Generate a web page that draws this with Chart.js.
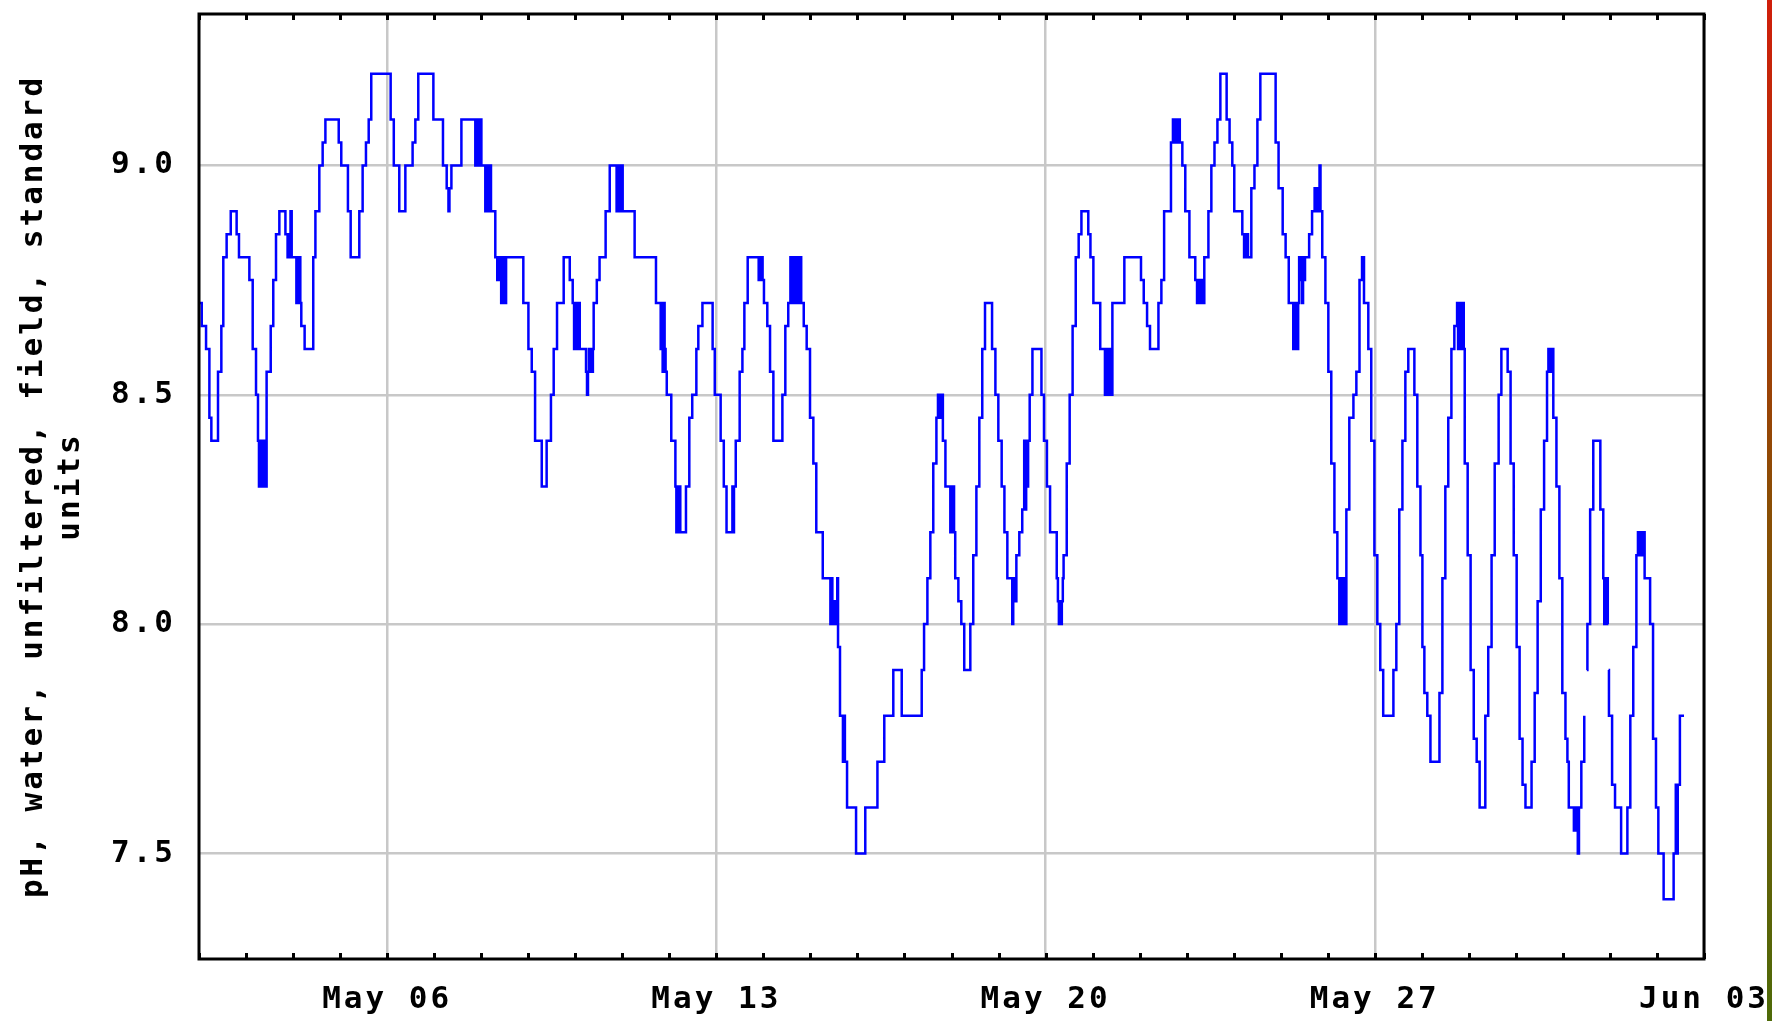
<!DOCTYPE html>
<html>
<head>
<meta charset="utf-8">
<title>pH, water, unfiltered, field, standard units</title>
<script src="https://cdn.jsdelivr.net/npm/chart.js@4.4.1/dist/chart.umd.min.js"></script>
<style>
  html, body { margin: 0; padding: 0; background: #fff; }
  #wrap { width: 1772px; height: 1021px; }
</style>
</head>
<body>
<div id="wrap"><canvas id="phChart" width="1772" height="1021"></canvas></div>
<script>
/* Hours since May 02 00:00 at which the reading changes, and the reading from then on.
   null = break in the record */
const stepHours = [
    0, 1.4, 3.6, 5.3, 6.3, 9.7, 11.4, 12.4, 14.1, 16.2, 19.2, 20.4,
    25.7, 27.4, 29.1, 30.1, 30.6, 31.1, 31.6, 32.1, 32.6, 33.1, 33.6, 34.5, 36.6, 37.9, 39.3, 41.0, 44.1,
    45.2, 45.7, 46.2, 46.7, 47.3, 49.7, 50.2, 50.7, 51.2, 51.7, 52.2, 53.9, 58.3, 59.4, 61.4, 63.1, 64.5,
    71.3, 72.6, 76.0, 77.4, 81.8, 83.5, 85.2, 86.6, 87.9, 97.8, 99.4, 102.2, 105.3, 109.0, 110.4, 111.9,
    119.6, 124.5, 126.4, 127.3, 127.8, 128.8, 133.9, 141.0, 141.5, 142.0, 142.5, 143.0, 143.5, 144.1,
    146.1, 146.6, 147.1, 147.6, 148.1, 148.6, 149.0, 151.2, 152.2, 152.7, 153.2, 153.7, 154.2, 154.7, 155.2, 155.7, 156.2, 156.7,
    165.5, 168.1, 169.8, 171.5, 174.9, 177.4, 179.6, 181.0, 182.7, 186.1, 189.2, 190.7,
    191.4, 191.9, 192.4, 192.9, 193.4, 193.9, 194.3, 197.5, 198.0, 198.5, 199.0, 199.5, 200.0, 200.5, 201.0, 201.4, 203.0, 204.4, 207.5, 209.6,
    213.1, 213.6, 214.1, 214.6, 215.1, 215.6, 216.2, 222.3, 233.2, 235.6, 236.1, 236.6, 237.1, 237.6, 238.1, 238.7, 241.0, 243.1,
    243.6, 244.1, 244.6, 245.1, 245.6, 248.5, 250.2, 251.7, 253.8, 254.8, 256.9, 262.1, 263.2, 266.2, 267.8,
    269.2, 272.2, 272.6, 273.0, 273.9, 275.9, 277.3, 278.3, 280.0, 285.6, 286.1, 286.6, 287.1, 287.6, 288.3, 290.0, 291.4, 293.1,
    297.7, 299.2, 300.7, 301.8, 302.3, 302.8, 303.3, 303.8, 304.3, 304.8, 305.3, 305.8, 306.3, 306.8, 307.3, 308.6, 310.1, 311.8, 313.5, 315.0, 318.3,
    322.2, 322.7, 323.2, 323.7, 324.2, 324.7, 325.2, 325.7, 326.1, 327.1, 328.6, 329.1, 329.6, 330.7, 335.3, 340.0, 346.2, 349.7, 354.3, 358.6, 368.8,
    370.0, 371.7, 373.2, 374.7, 376.3, 377.1, 377.6, 378.1, 378.6, 379.1, 379.6, 380.9, 383.4, 383.9, 384.4, 384.9, 385.3, 385.9, 387.5, 389.0, 390.5,
    393.6, 395.1, 396.7, 398.2, 399.7, 401.1, 404.7, 406.4, 407.9, 409.6, 411.0, 412.5, 415.0, 415.5, 416.0, 416.5, 417.1, 418.6, 420.1,
    421.1, 421.6, 422.1, 422.6, 423.1, 423.9, 425.3, 429.9, 431.2, 432.7, 434.3, 437.7, 438.3, 438.8, 439.3, 439.8, 440.3, 440.8, 441.2,
    442.8, 444.3, 445.8, 447.4, 448.9, 450.3, 453.8, 454.9, 456.4, 459.9, 462.3, 462.8, 463.3, 463.8, 464.3, 464.8, 465.3, 466.1, 472.2,
    480.7, 482.1, 483.8, 485.3, 489.6, 491.1, 492.5, 496.0, 497.0, 497.5, 498.0, 498.5, 499.0, 499.5, 500.0, 500.5, 501.8, 503.3, 505.4, 508.4,
    509.3, 509.8, 510.3, 510.8, 511.3, 511.8, 512.3, 513.0, 515.1, 516.6, 518.2, 519.7, 521.2, 524.4, 525.9, 527.3, 528.3, 532.4,
    533.3, 533.8, 534.3, 534.8, 535.3, 537.0, 538.6, 540.1, 541.6, 549.4, 550.9, 553.0, 554.5, 556.1,
    558.4, 558.9, 559.4, 559.9, 560.4, 560.9, 561.4, 561.9, 562.4, 562.9, 563.4, 563.9, 564.4, 566.5, 568.0,
    569.3, 569.8, 570.3, 570.8, 571.3, 571.8, 572.3, 573.2, 574.8, 576.3, 577.8, 579.4, 580.9,
    581.9, 582.4, 582.9, 583.4, 583.9, 584.4, 584.9, 585.5, 587.0, 589.1, 590.6, 592.2, 593.5, 594.5, 596.7, 598.2, 599.8, 601.3, 602.8, 604.3,
    609.5, 611.0, 612.5, 614.1, 615.6, 617.1, 620.2, 621.7, 623.3, 624.3, 625.3, 626.8, 628.4, 633.0, 634.5, 636.0, 637.5, 639.1, 640.6,
    642.0, 642.5, 643.0, 643.5, 644.0, 644.5, 645.0, 645.4, 645.9, 647.4, 648.9, 650.5, 652.0, 653.5, 656.4, 657.9, 659.6, 661.2, 663.2, 664.6,
    667.8, 669.3, 670.9, 672.4, 673.9, 675.4, 676.9, 680.0, 681.6, 683.1, 684.7, 686.4, 687.9,
    688.6, 689.1, 689.6, 690.1, 690.6, 691.1, 692.7, 694.2, 695.7, 697.3, 698.3, 699.0, 701.6, 702.1, 702.6, 703.1, 703.6, 704.2, 705.4, 706.9, 707.3,
    708.2, 708.5, 709.9, 711.5, 715.1, 716.6, 717.1, 717.6, 718.1, 718.6, 718.9, 719.1,
    719.3, 719.5, 721.1, 722.6, 725.7, 728.9, 730.4, 731.9, 733.5, 734.3, 734.8, 735.3, 735.8, 736.3, 736.8, 737.3, 737.7,
    740.5, 742.0, 743.5, 744.7, 747.4, 752.5, 753.6, 754.1, 754.6, 755.7, 757.8
];

const phValues = [
    8.7, 8.65, 8.6, 8.45, 8.4, 8.55, 8.65, 8.8, 8.85, 8.9, 8.85, 8.8,
    8.75, 8.6, 8.5, 8.4, 8.3, 8.4, 8.3, 8.4, 8.3, 8.4, 8.3, 8.55, 8.65, 8.75, 8.85, 8.9, 8.85,
    8.8, 8.85, 8.8, 8.9, 8.8, 8.7, 8.8, 8.7, 8.8, 8.7, 8.65, 8.6, 8.8, 8.9, 9.0, 9.05, 9.1,
    9.05, 9.0, 8.9, 8.8, 8.9, 9.0, 9.05, 9.1, 9.2, 9.1, 9.0, 8.9, 9.0, 9.05, 9.1, 9.2,
    9.1, 9.0, 8.95, 8.9, 8.95, 9.0, 9.1, 9.0, 9.1, 9.0, 9.1, 9.0, 9.1, 9.0,
    8.9, 9.0, 8.9, 9.0, 8.9, 9.0, 8.9, 8.8, 8.75, 8.8, 8.75, 8.8, 8.7, 8.8, 8.7, 8.8, 8.7, 8.8,
    8.7, 8.6, 8.55, 8.4, 8.3, 8.4, 8.5, 8.6, 8.7, 8.8, 8.75, 8.7,
    8.6, 8.7, 8.6, 8.7, 8.6, 8.7, 8.6, 8.55, 8.5, 8.55, 8.6, 8.55, 8.6, 8.55, 8.6, 8.7, 8.75, 8.8, 8.9, 9.0,
    8.9, 9.0, 8.9, 9.0, 8.9, 9.0, 8.9, 8.8, 8.7, 8.6, 8.7, 8.55, 8.7, 8.6, 8.55, 8.5, 8.4, 8.3,
    8.2, 8.3, 8.2, 8.3, 8.2, 8.3, 8.45, 8.5, 8.6, 8.65, 8.7, 8.6, 8.5, 8.4, 8.3,
    8.2, 8.3, 8.2, 8.3, 8.4, 8.55, 8.6, 8.7, 8.8, 8.75, 8.8, 8.75, 8.8, 8.75, 8.7, 8.65, 8.55, 8.4,
    8.5, 8.65, 8.7, 8.8, 8.7, 8.8, 8.7, 8.8, 8.7, 8.8, 8.7, 8.8, 8.7, 8.8, 8.7, 8.65, 8.6, 8.45, 8.35, 8.2, 8.1,
    8.0, 8.1, 8.0, 8.05, 8.0, 8.05, 8.0, 8.1, 7.95, 7.8, 7.7, 7.8, 7.7, 7.6, 7.5, 7.6, 7.7, 7.8, 7.9, 7.8, 7.9,
    8.0, 8.1, 8.2, 8.35, 8.45, 8.5, 8.45, 8.5, 8.45, 8.5, 8.4, 8.3, 8.2, 8.3, 8.2, 8.3, 8.2, 8.1, 8.05, 8.0, 7.9,
    8.0, 8.15, 8.3, 8.45, 8.6, 8.7, 8.6, 8.5, 8.4, 8.3, 8.2, 8.1, 8.0, 8.05, 8.1, 8.05, 8.15, 8.2, 8.25,
    8.4, 8.25, 8.4, 8.3, 8.4, 8.5, 8.6, 8.5, 8.4, 8.3, 8.2, 8.1, 8.05, 8.0, 8.05, 8.0, 8.05, 8.1, 8.15,
    8.35, 8.5, 8.65, 8.8, 8.85, 8.9, 8.85, 8.8, 8.7, 8.6, 8.5, 8.6, 8.5, 8.6, 8.5, 8.6, 8.5, 8.7, 8.8,
    8.75, 8.7, 8.65, 8.6, 8.7, 8.75, 8.9, 9.05, 9.1, 9.05, 9.1, 9.05, 9.1, 9.05, 9.1, 9.05, 9.0, 8.9, 8.8, 8.75,
    8.7, 8.75, 8.7, 8.75, 8.7, 8.75, 8.7, 8.8, 8.9, 9.0, 9.05, 9.1, 9.2, 9.1, 9.05, 9.0, 8.9, 8.85,
    8.8, 8.85, 8.8, 8.85, 8.8, 8.95, 9.0, 9.1, 9.2, 9.05, 8.95, 8.85, 8.8, 8.7,
    8.6, 8.7, 8.6, 8.7, 8.6, 8.7, 8.8, 8.75, 8.8, 8.7, 8.8, 8.75, 8.8, 8.85, 8.9,
    8.95, 8.9, 8.95, 8.9, 8.95, 9.0, 8.9, 8.8, 8.7, 8.55, 8.35, 8.2, 8.1,
    8.0, 8.1, 8.0, 8.1, 8.0, 8.1, 8.0, 8.25, 8.45, 8.5, 8.55, 8.75, 8.8, 8.7, 8.6, 8.4, 8.15, 8.0, 7.9, 7.8,
    7.9, 8.0, 8.25, 8.4, 8.55, 8.6, 8.5, 8.3, 8.15, 7.95, 7.85, 7.8, 7.7, 7.85, 8.1, 8.3, 8.45, 8.6, 8.65,
    8.7, 8.6, 8.7, 8.6, 8.7, 8.6, 8.7, 8.6, 8.35, 8.15, 7.9, 7.75, 7.7, 7.6, 7.8, 7.95, 8.15, 8.35, 8.5, 8.6,
    8.55, 8.35, 8.15, 7.95, 7.75, 7.65, 7.6, 7.7, 7.85, 8.05, 8.25, 8.4, 8.55,
    8.6, 8.55, 8.6, 8.55, 8.6, 8.45, 8.3, 8.1, 7.85, 7.75, 7.7, 7.6, 7.55, 7.6, 7.55, 7.6, 7.5, 7.6, 7.7, 7.8, null,
    7.9, 8.0, 8.25, 8.4, 8.25, 8.1, 8.0, 8.1, 8.0, 8.1, 8.0, null,
    7.9, 7.8, 7.65, 7.6, 7.5, 7.6, 7.8, 7.95, 8.15, 8.2, 8.15, 8.2, 8.15, 8.2, 8.15, 8.2, 8.1,
    8.0, 7.75, 7.6, 7.5, 7.4, 7.5, 7.65, 7.5, 7.65, 7.8, 7.8
];

/* Axes */
const xMinHour = 0;      // May 02 00:00
const xMaxHour = 768;    // Jun 03 00:00
const dayHours = [];
for (let h = xMinHour; h <= xMaxHour; h += 24) dayHours.push(h);
const xLabelHours = [96, 264, 432, 600, 768];
const xLabels = ['May 06', 'May 13', 'May 20', 'May 27', 'Jun 03'];

const yMin = 7.27;
const yMax = 9.33;
const yTickValues = [7.5, 8.0, 8.5, 9.0];
const yTitleLines = ['pH, water, unfiltered, field, standard', 'units'];

const FONT = "'DejaVu Sans Mono', 'Liberation Mono', monospace";
const GRID = '#c8c8c8';

/* frame, inner day ticks, spacing for the blocky lettering */
const framePlugin = {
    id: 'frame',
    beforeDraw(chart) {
        chart.ctx.letterSpacing = '3px';
    },
    afterDraw(chart) {
        const ctx = chart.ctx;
        const a = chart.chartArea;
        const xs = chart.scales.x;
        ctx.save();
        ctx.letterSpacing = '0px';
        ctx.strokeStyle = '#000';
        ctx.lineWidth = 3;
        ctx.beginPath();
        dayHours.forEach(h => {
            const px = Math.round(xs.getPixelForValue(h)) + 0.5;
            ctx.moveTo(px, a.bottom);
            ctx.lineTo(px, a.bottom - 6);
            ctx.moveTo(px, a.top);
            ctx.lineTo(px, a.top + 6);
        });
        ctx.stroke();
        ctx.strokeRect(a.left, a.top, a.right - a.left, a.bottom - a.top);

        // coloured edge strip at the far right of the picture
        const g = ctx.createLinearGradient(0, 0, 0, chart.height);
        g.addColorStop(0, '#d01e0a');
        g.addColorStop(0.5, '#8a4e04');
        g.addColorStop(1, '#4e6a08');
        ctx.fillStyle = g;
        ctx.fillRect(chart.width - 5, 0, 5, chart.height);
        ctx.restore();
    }
};

const ctx = document.getElementById('phChart').getContext('2d');

new Chart(ctx, {
    type: 'line',
    data: {
        datasets: [{
            label: 'pH',
            data: stepHours.map((h, i) => ({ x: h, y: phValues[i] })),
            borderColor: '#0000ff',
            borderWidth: 2.5,
            pointRadius: 0,
            stepped: true,
            tension: 0,
            fill: false,
            spanGaps: false,
        }],
    },
    options: {
        responsive: false,
        animation: false,
        events: [],
        layout: { padding: { left: 0, right: 68, top: 14, bottom: 0 } },
        plugins: {
            legend: { display: false },
            tooltip: { enabled: false },
        },
        scales: {
            x: {
                type: 'linear',
                min: xMinHour,
                max: xMaxHour,
                afterBuildTicks: s => { s.ticks = dayHours.map(v => ({ value: v })); },
                afterFit: s => { s.height = 62; s.paddingLeft = 0; s.paddingRight = 0; },
                grid: {
                    color: c => (c.tick && xLabelHours.includes(c.tick.value)) ? GRID : 'rgba(0,0,0,0)',
                    lineWidth: 2.5,
                    drawTicks: false,
                },
                border: { display: false },
                ticks: {
                    autoSkip: false,
                    maxRotation: 0,
                    padding: 22,
                    color: '#000',
                    font: { family: FONT, size: 31, weight: 'bold' },
                    callback: v => {
                        const i = xLabelHours.indexOf(v);
                        return i >= 0 ? xLabels[i] : '';
                    },
                },
            },
            y: {
                min: yMin,
                max: yMax,
                afterBuildTicks: s => { s.ticks = yTickValues.map(v => ({ value: v })); },
                afterFit: s => { s.width = 199; s.paddingTop = 0; s.paddingBottom = 0; },
                grid: { color: GRID, lineWidth: 2.5, drawTicks: false },
                border: { display: false },
                ticks: {
                    padding: 23,
                    color: '#000',
                    font: { family: FONT, size: 31, weight: 'bold' },
                    callback: v => v.toFixed(1),
                },
                title: {
                    display: true,
                    text: yTitleLines,
                    color: '#000',
                    font: { family: FONT, size: 31, weight: 'bold', lineHeight: 1.2 },
                    padding: { top: 15, bottom: 0 },
                },
            },
        },
    },
    plugins: [framePlugin],
});
</script>
</body>
</html>
